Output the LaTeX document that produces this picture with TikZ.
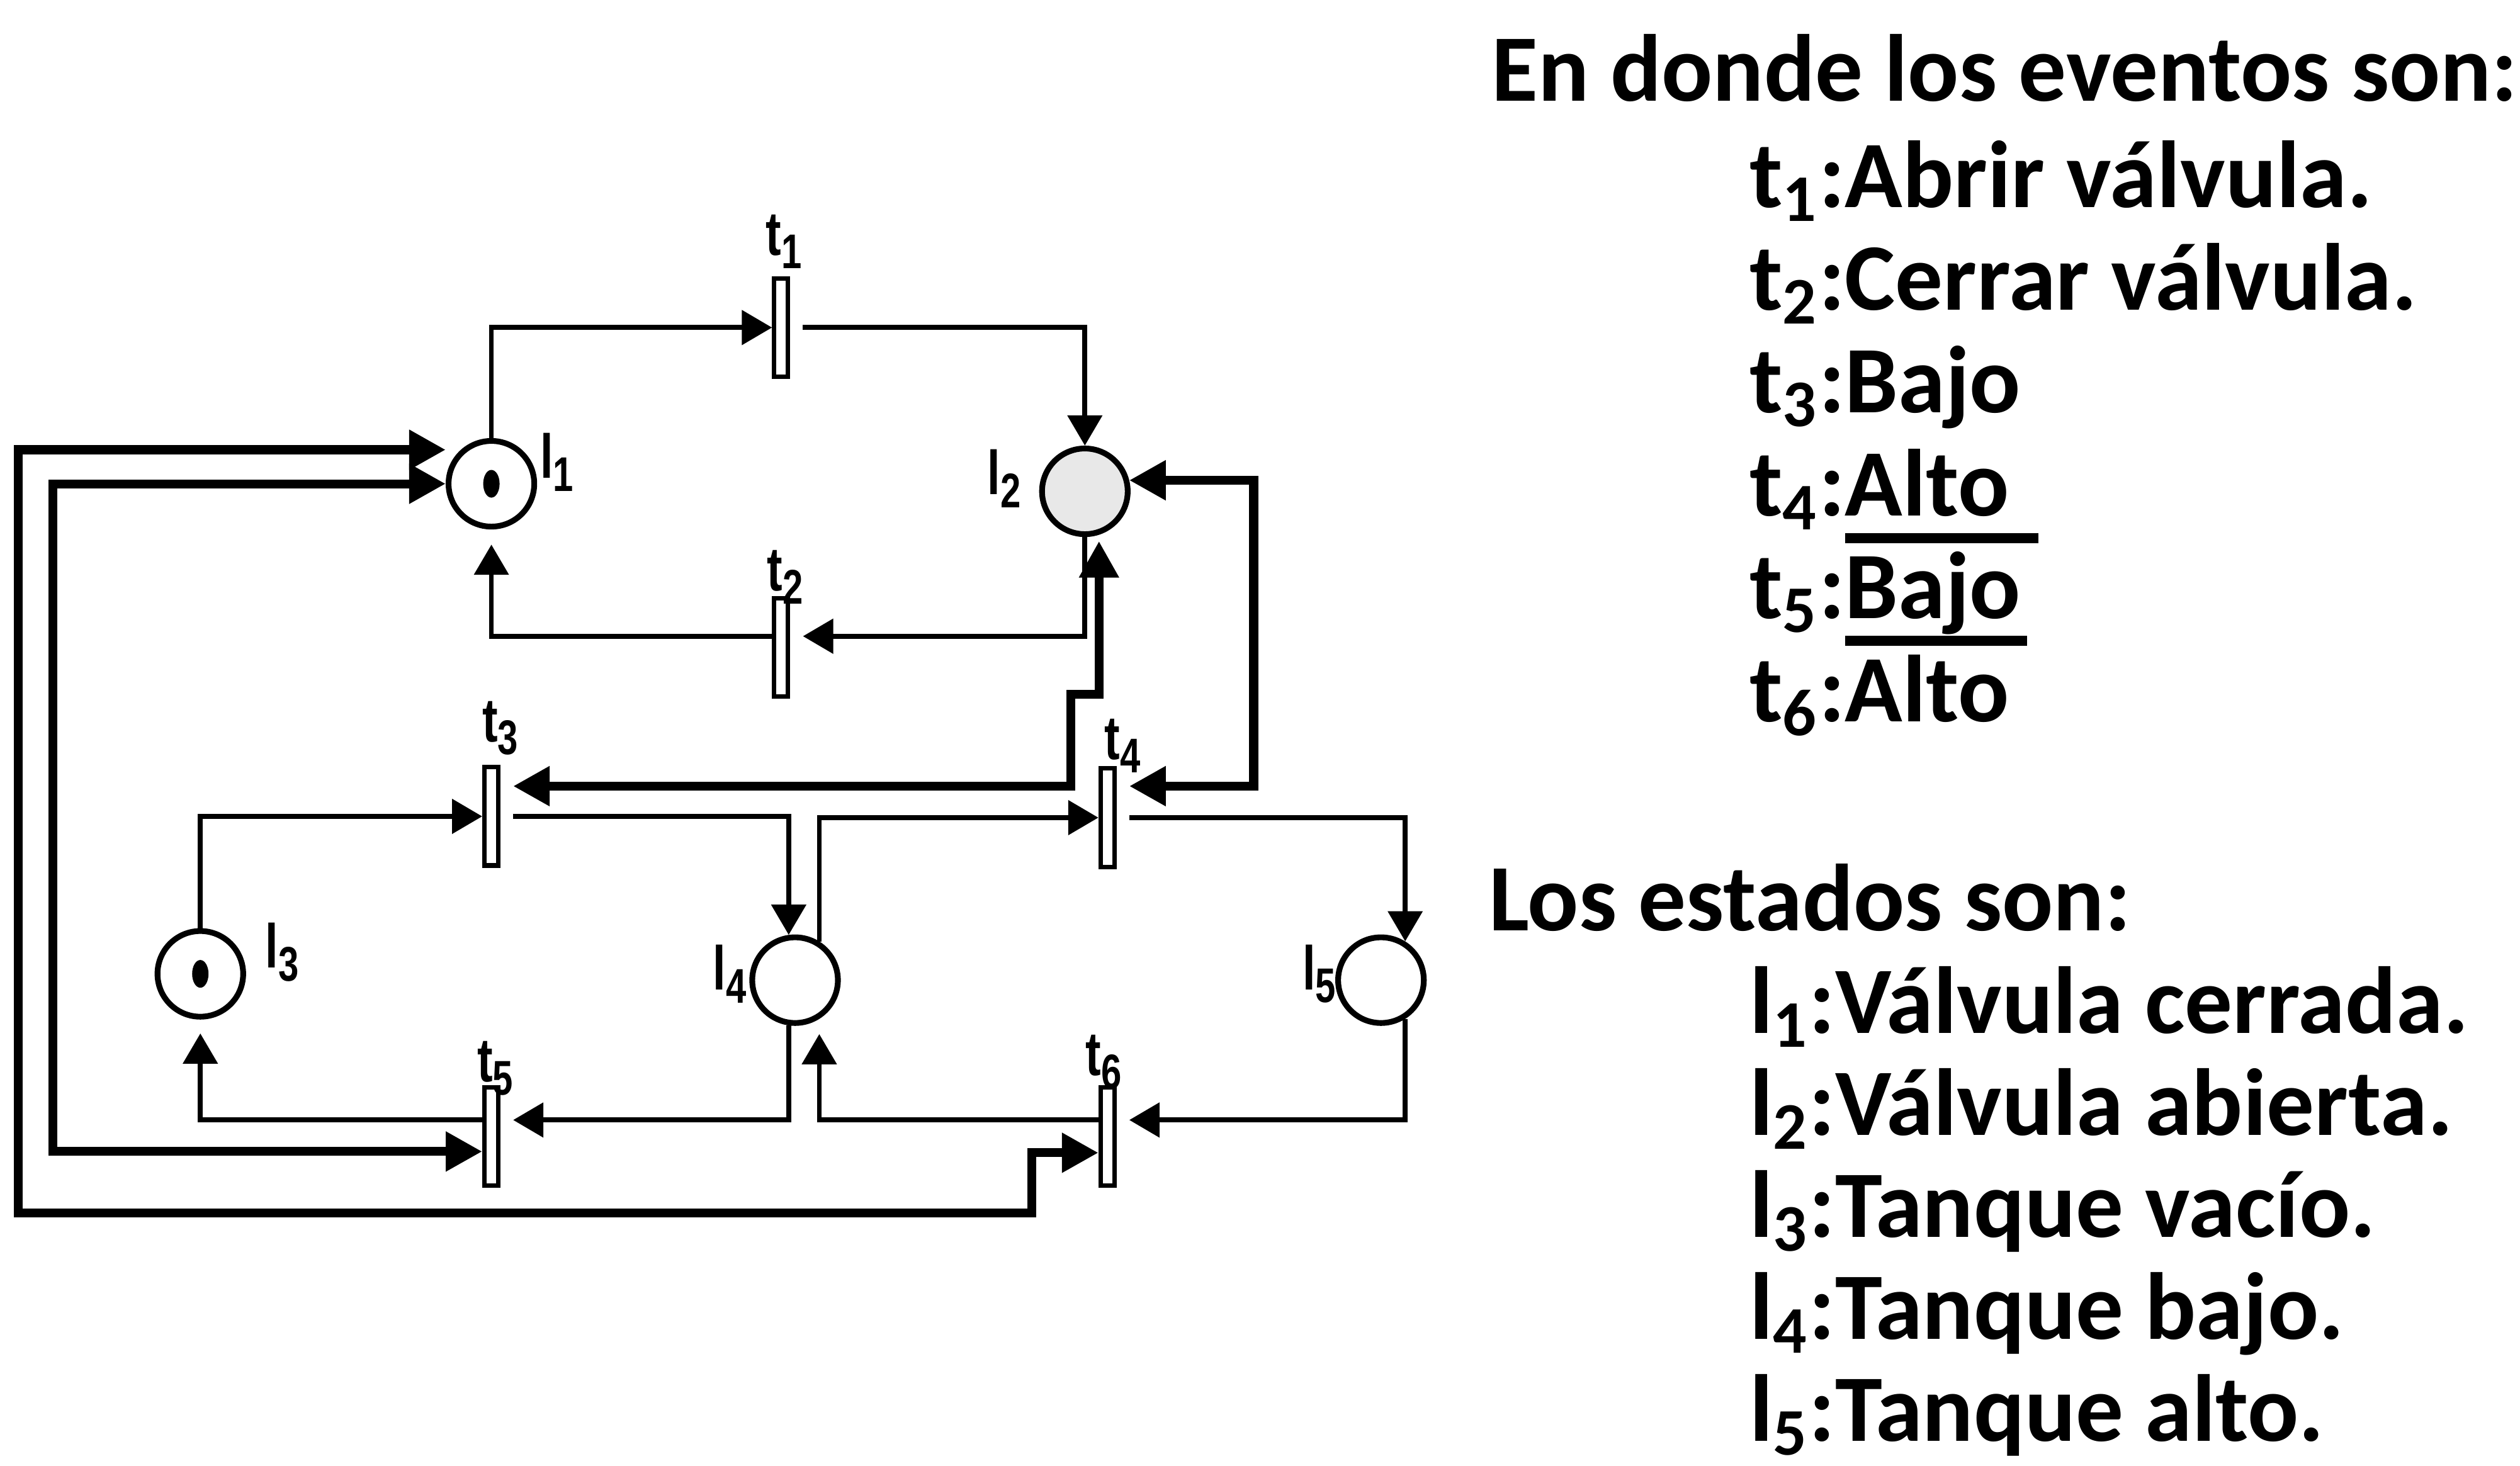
\documentclass[tikz,border=0pt]{standalone}
\usepackage{fontspec}
\usetikzlibrary{arrows.meta}
\newfontfamily\txtfont{Carlito}
\newfontfamily\lblfont[FakeStretch=0.75]{Liberation Sans}
\newcommand\lsub[1]{\raisebox{-0.4ex}{\fontsize{11}{11}\selectfont #1}}
\newcommand\barra[1]{\vbox{\hrule height 2.2pt\kern 2pt\hbox{#1\kern4pt}}}

\tikzset{
  lugar/.style={circle, draw, line width=1.3pt, minimum size=0.68cm, inner sep=0pt},
  trans/.style={rectangle, draw, line width=1pt, fill=white, minimum width=0.11cm, minimum height=0.78cm, inner sep=0pt},
  arco/.style={line width=1.1pt, -{Triangle[length=2.4mm,width=2.7mm]}},
  arcog/.style={line width=2pt, {Triangle[length=2.9mm,width=3mm]}-{Triangle[length=2.9mm,width=3mm]}},
  etq/.style={font=\lblfont\bfseries\fontsize{14}{14}\selectfont, inner sep=0pt},
  texto/.style={font=\txtfont\bfseries\fontsize{21.5}{26}\selectfont, anchor=base west, inner sep=0pt}
}

\begin{document}
\begin{tikzpicture}
\useasboundingbox (0,0) rectangle (20,-11.633);

% lugares
\node[lugar] (I1) at (3.90,-3.84) {};
\node[lugar, fill=gray!18] (I2) at (8.61,-3.90) {};
\node[lugar] (I3) at (1.59,-7.73) {};
\node[lugar] (I4) at (6.31,-7.78) {};
\node[lugar] (I5) at (10.96,-7.78) {};
\fill (I1) ellipse (0.065 and 0.11);
\fill (I3) ellipse (0.065 and 0.11);

% transiciones
\node[trans] (t1) at (6.20,-2.60) {};
\node[trans] (t2) at (6.20,-5.14) {};
\node[trans] (t3) at (3.90,-6.48) {};
\node[trans] (t4) at (8.79,-6.49) {};
\node[trans] (t5) at (3.90,-9.02) {};
\node[trans] (t6) at (8.79,-9.02) {};

% etiquetas
\node[etq] (lt1) at (6.22,-1.92) {t\lsub1};
\node[etq] (lt2) at (6.23,-4.58) {t\lsub2};
\node[etq] (lt3) at (3.97,-5.78) {t\lsub3};
\node[etq] (lt4) at (8.91,-5.92) {t\lsub4};
\node[etq] (lt5) at (3.93,-8.48) {t\lsub5};
\node[etq] (lt6) at (8.76,-8.43) {t\lsub6};
\node[etq] (ll1) at (4.42,-3.67) {l\lsub1};
\node[etq] (ll2) at (7.97,-3.80) {l\lsub2};
\node[etq] (ll3) at (2.24,-7.56) {l\lsub3};
\node[etq] (ll4) at (5.79,-7.73) {l\lsub4};
\node[etq] (ll5) at (10.47,-7.73) {l\lsub5};

% arcos
\draw[arco] (I1) |- (t1);
\draw[arco, shorten <=1mm] (t1) -| (I2);
\draw[arco, shorten >=1mm] (I2) |- ([yshift=0.9mm]t2.east);
\draw[arco, shorten >=1.2mm] ([yshift=0.9mm]t2.west) -| (I1);
\draw[arco] (I3) |- (t3);
\draw[arco, shorten <=1mm] (t3) -| (I4.98);
\draw[arco] (I4.58) |- (t4);
\draw[arco, shorten <=1mm] (t4) -| (I5.58);
\draw[arco, shorten >=1mm] (I4.-98) |- ([yshift=1.3mm]t5.east);
\draw[arco, shorten >=1.1mm] ([yshift=1.3mm]t5.west) -| (I3);
\draw[arco, shorten >=1mm] (I5.-58) |- ([yshift=1.3mm]t6.east);
\draw[arco, shorten >=1.2mm] ([yshift=1.3mm]t6.west) -| (I4.-58);

% arcos gruesos
\coordinate (k1) at (8.50,-5.51);
\coordinate (k2) at (9.95,-4.50);
\coordinate (k3) at (0.42,-6.00);
\coordinate (k4) at (0.147,-9.63);
\coordinate (k5) at (8.19,-9.40);
\draw[arcog, shorten <=1mm, shorten >=0.5mm] ([yshift=2.4mm]t3.east) -| (k1) -| (I2.-72);
\draw[arcog, shorten >=1mm] (I2.14) -| (k2) |- ([yshift=2.5mm]t4.east);
\draw[arcog] (I1) -| (k3) |- ([yshift=-1.2mm]t5.west);
\draw[arcog] ([yshift=2.7mm]I1.west) -| (k4) -| (k5) |- ([yshift=-1.3mm]t6.west);

% texto
\node[texto] (ev0) at (11.83,-0.80) {En donde los eventos son:};
\foreach \txt [count=\i] in {Abrir válvula., Cerrar válvula., Bajo, Alto, \barra{Bajo}, \barra{Alto}}
  \node[texto] (ev\i) at (13.88,{-1.645-0.8163*(\i-1)}) {t\textsubscript{\i}:\txt};
\node[texto] (st0) at (11.81,-7.385) {Los estados son:};
\foreach \txt [count=\i] in {Válvula cerrada., Válvula abierta., Tanque vacío., Tanque bajo., Tanque alto.}
  \node[texto] (st\i) at (13.88,{-8.20-0.81*(\i-1)}) {l\textsubscript{\i}:\txt};
\end{tikzpicture}
\end{document}
